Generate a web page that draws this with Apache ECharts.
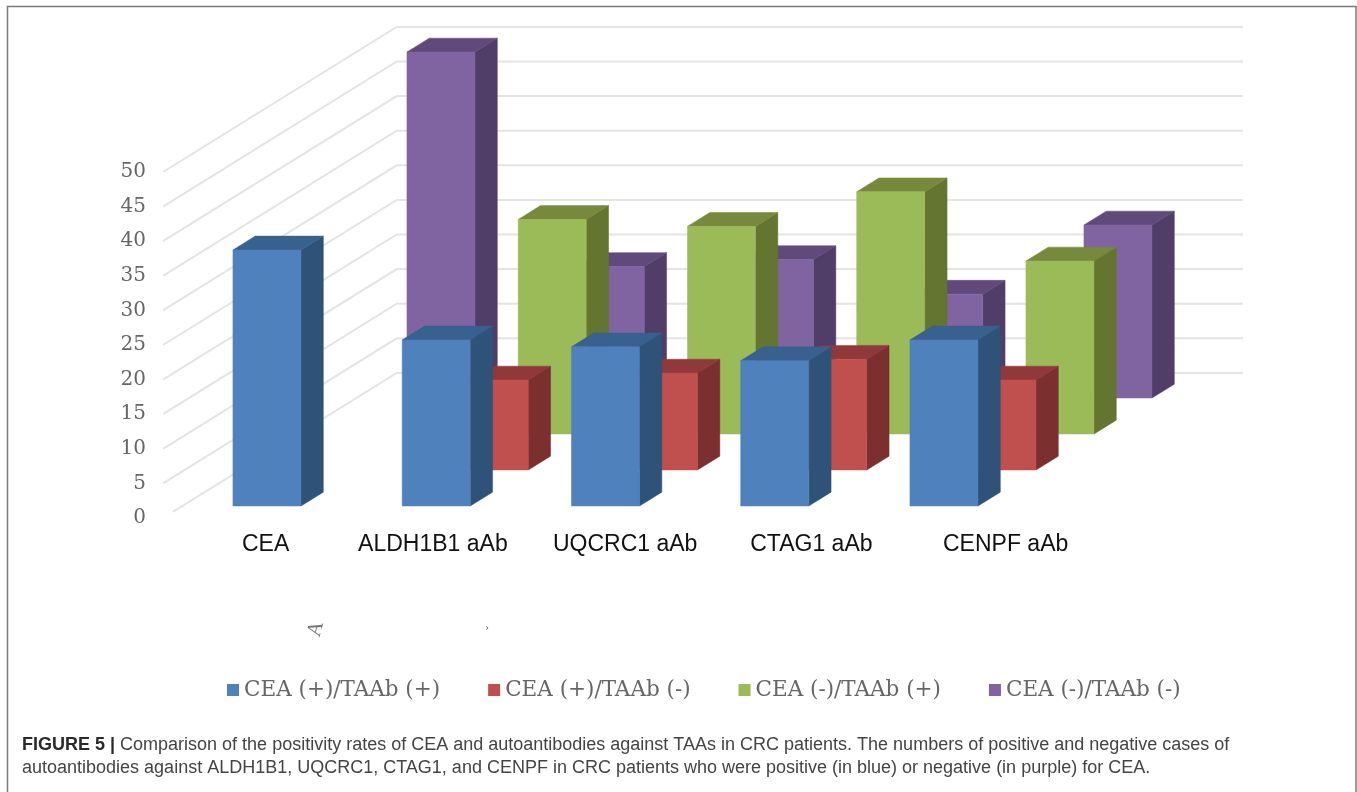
<!DOCTYPE html>
<html>
<head>
<meta charset="utf-8">
<title>Figure 5</title>
<style>html,body{margin:0;padding:0;background:#fff}#chart{width:1357px;height:792px}</style>
<script src="https://cdn.jsdelivr.net/npm/echarts@6/dist/echarts.min.js"></script>
</head>
<body>
<div id="chart"></div>
<script>
// Case counts per marker, one array per CEA / autoantibody combination.
const categories = ['CEA', 'ALDH1B1 aAb', 'UQCRC1 aAb', 'CTAG1 aAb', 'CENPF aAb'];
const seriesNames = ['CEA (+)/TAAb (+)', 'CEA (+)/TAAb (-)', 'CEA (-)/TAAb (+)', 'CEA (-)/TAAb (-)'];
const posPos = [37, 24, 23, 21, 24];
const posNeg = [null, 13, 14, 16, 13];
const negPos = [null, 31, 30, 35, 25];
const negNeg = [50, 19, 20, 15, 25];
const yTicks = [0, 5, 10, 15, 20, 25, 30, 35, 40, 45, 50];

// Face colours per series: front, side, top.
const faces = [
  ['#4F81BD', '#2F5279', '#38618F'],
  ['#C0504D', '#7B2F2E', '#91393A'],
  ['#9BBB59', '#64752F', '#76893D'],
  ['#8064A2', '#503D68', '#604A7B']
];

// Oblique projection: screen offset for one row of depth.
const ROW_DX = 58, ROW_DY = -36;
const ROW_FRONT = 1 / 3;     // depth of a bar's front face inside its row
const BAR_DEPTH = 0.385;     // bar thickness, in rows
const WALL_DEPTH = 4.03;     // floor depth, in rows
const BAR_RATIO = 0.402;     // bar width relative to the category band
const LABEL_SHIFT = [18, 16, 39, 56, 81]; // horizontal nudge of category labels

function renderBar(row) {
  return function (params, api) {
    const value = api.value(1);
    if (value == null || isNaN(value)) return;
    const top = api.coord([api.value(0), value]);
    const base = api.coord([api.value(0), 0]);
    const w = api.size([1, 0])[0] * BAR_RATIO;
    const ox = (row + ROW_FRONT) * ROW_DX, oy = (row + ROW_FRONT) * ROW_DY;
    const dx = BAR_DEPTH * ROW_DX, dy = BAR_DEPTH * ROW_DY;
    const l = top[0] - w / 2 + ox, r = l + w;
    const t = top[1] + oy, b = base[1] + oy;
    const c = faces[row];
    const poly = (points, fill) => ({ type: 'polygon', shape: { points }, style: { fill, stroke: fill, lineWidth: 0.5 } });
    return {
      type: 'group',
      children: [
        poly([[r, t], [r + dx, t + dy], [r + dx, b + dy], [r, b]], c[1]),
        poly([[l, t], [l + dx, t + dy], [r + dx, t + dy], [r, t]], c[2]),
        poly([[l, t], [r, t], [r, b], [l, b]], c[0])
      ]
    };
  };
}

// Side-wall and back-wall gridlines, one polyline per axis tick.
function renderWall(params, api) {
  const v = api.value(0);
  const y = api.coord([0, v])[1];
  const g = params.coordSys;
  const start = v === 0 ? 0.17 : 0;
  const bx = g.x + WALL_DEPTH * ROW_DX, by = y + WALL_DEPTH * ROW_DY;
  return {
    type: 'polyline',
    shape: { points: [[g.x + start * ROW_DX, y + start * ROW_DY], [bx, by], [bx + g.width, by]] },
    style: { fill: 'none', stroke: '#E4E4E4', lineWidth: 2 }
  };
}

const rows = [posPos, posNeg, negPos, negNeg];
const barSeries = rows.map((vals, row) => ({
  name: seriesNames[row],
  type: 'custom',
  z: 5 - row,
  clip: false,
  itemStyle: { color: faces[row][0] },
  encode: { x: 0, y: 1 },
  data: categories.map((c, i) => [i, vals[i]]),
  renderItem: renderBar(row)
}));

const labelRich = {};
LABEL_SHIFT.forEach((s, i) => {
  labelRich['c' + i] = { padding: [0, 0, 0, s * 2], fontFamily: 'Liberation Sans', fontSize: 23, color: '#111' };
});

const chart = echarts.init(document.getElementById('chart'), null, { renderer: 'canvas' });
chart.setOption({
  animation: false,
  backgroundColor: '#fff',
  grid: { left: 163, top: 172, width: 846.25, height: 346, containLabel: false },
  xAxis: {
    type: 'category',
    data: categories,
    axisLine: { show: false },
    axisTick: { show: false },
    axisLabel: {
      margin: 15,
      interval: 0,
      hideOverlap: false,
      formatter: (v, i) => '{c' + i + '|' + v + '}',
      rich: labelRich
    }
  },
  yAxis: {
    type: 'value',
    min: 0,
    max: 50,
    interval: 5,
    axisLine: { show: false },
    axisTick: { show: false },
    splitLine: { show: false },
    axisLabel: {
      margin: 17,
      padding: [0, 0, 6, 0],
      fontFamily: 'DejaVu Serif',
      fontSize: 20,
      color: '#666666'
    }
  },
  legend: {
    data: seriesNames,
    left: 227,
    top: 679,
    padding: 0,
    icon: 'rect',
    itemWidth: 12,
    itemHeight: 12,
    itemGap: 48,
    textStyle: { fontFamily: 'DejaVu Serif', fontSize: 21.5, color: '#666666' },
    selectedMode: false
  },
  title: {
    left: 17,
    top: 729,
    text: '{b|FIGURE 5 |} Comparison of the positivity rates of CEA and autoantibodies against TAAs in CRC patients. The numbers of positive and negative cases of\nautoantibodies against ALDH1B1, UQCRC1, CTAG1, and CENPF in CRC patients who were positive (in blue) or negative (in purple) for CEA.',
    textStyle: {
      fontFamily: 'Liberation Sans',
      fontWeight: 'normal',
      fontSize: 18,
      lineHeight: 23,
      color: '#444444',
      rich: { b: { fontFamily: 'Liberation Sans', fontWeight: 'bold', fontSize: 18, lineHeight: 23, color: '#2A2A2A' } }
    }
  },
  graphic: [
    { type: 'polyline', z: 0, shape: { points: [[7.5, 792], [7.5, 6.5], [1356, 6.5], [1356, 792]] }, style: { fill: 'none', stroke: '#7A7A7A', lineWidth: 1.5 } },
    { type: 'text', z: 0, x: 316, y: 629, rotation: 1.3, originX: 0, originY: 0, style: { text: 'A', fontFamily: 'Liberation Serif', fontSize: 21, fill: '#777', align: 'center', verticalAlign: 'middle' } },
    { type: 'text', z: 0, x: 487, y: 627, style: { text: '\u203A', fontFamily: 'Liberation Serif', fontSize: 11, fill: '#666', align: 'center', verticalAlign: 'middle' } }
  ],
  series: [
    { type: 'custom', name: 'wall', z: 1, clip: false, silent: true, encode: { y: 0 }, data: yTicks.map(v => [v]), renderItem: renderWall }
  ].concat(barSeries)
});
</script>
</body>
</html>
